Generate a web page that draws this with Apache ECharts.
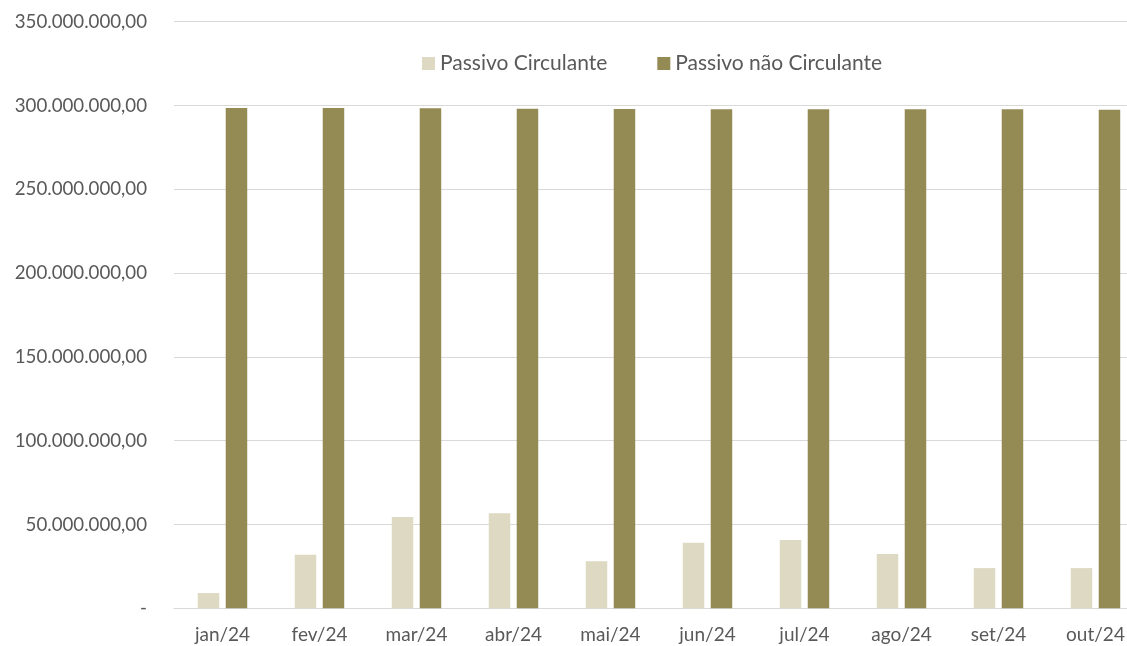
<!DOCTYPE html>
<html>
<head>
<meta charset="utf-8">
<script src="https://cdn.jsdelivr.net/npm/echarts@6/dist/echarts.min.js"></script>
<style>
html,body{margin:0;padding:0;background:#fff;overflow:hidden;width:1127px;height:646px;}
#chart{width:1144px;height:646px;}
</style>
</head>
<body>
<div id="chart"></div>
<script>
const categories = ['jan/24','fev/24','mar/24','abr/24','mai/24','jun/24','jul/24','ago/24','set/24','out/24'];
const passivoCirculante = [9100000, 32000000, 54500000, 56700000, 28000000, 39100000, 40800000, 32400000, 24000000, 24000000];
const passivoNaoCirculante = [298500000, 298500000, 298300000, 298100000, 297900000, 297700000, 297700000, 297700000, 297700000, 297500000];
const seriesNames = ['Passivo Circulante', 'Passivo não Circulante'];

function fmt(v){
  if (v === 0) return '-';
  const s = Math.round(v).toString().replace(/\B(?=(\d{3})+(?!\d))/g, '.');
  return s + ',00';
}

const chart = echarts.init(document.getElementById('chart'));
const font = 'Lato, "Open Sans", sans-serif';
chart.setOption({
  backgroundColor: '#ffffff',
  animation: false,
  textStyle: { fontFamily: font },
  legend: {
    top: 48,
    left: 417,
    itemWidth: 13,
    itemHeight: 13,
    itemGap: 50,
    icon: 'rect',
    textStyle: { color: '#595959', fontSize: 21, fontFamily: font },
    data: seriesNames
  },
  grid: { left: 174, top: 21.7, width: 970, height: 586.6, containLabel: false },
  xAxis: {
    type: 'category',
    data: categories,
    axisLine: { lineStyle: { color: '#D9D9D9', width: 1 } },
    axisTick: { show: false },
    axisLabel: { color: '#595959', fontSize: 19, margin: 17, fontFamily: font }
  },
  yAxis: {
    type: 'value',
    min: 0,
    max: 350000000,
    interval: 50000000,
    axisLine: { show: false },
    axisTick: { show: false },
    splitLine: { lineStyle: { color: '#D9D9D9', width: 1 } },
    axisLabel: { color: '#595959', fontSize: 18.7, margin: 27, fontFamily: font, formatter: fmt }
  },
  series: [
    {
      name: seriesNames[0],
      type: 'bar',
      data: passivoCirculante,
      barWidth: 21.5,
      barGap: '30%',
      itemStyle: { color: '#DDD9C3' }
    },
    {
      name: seriesNames[1],
      type: 'bar',
      data: passivoNaoCirculante,
      barWidth: 21.5,
      barGap: '30%',
      itemStyle: { color: '#948A54' }
    }
  ]
});
</script>
</body>
</html>
